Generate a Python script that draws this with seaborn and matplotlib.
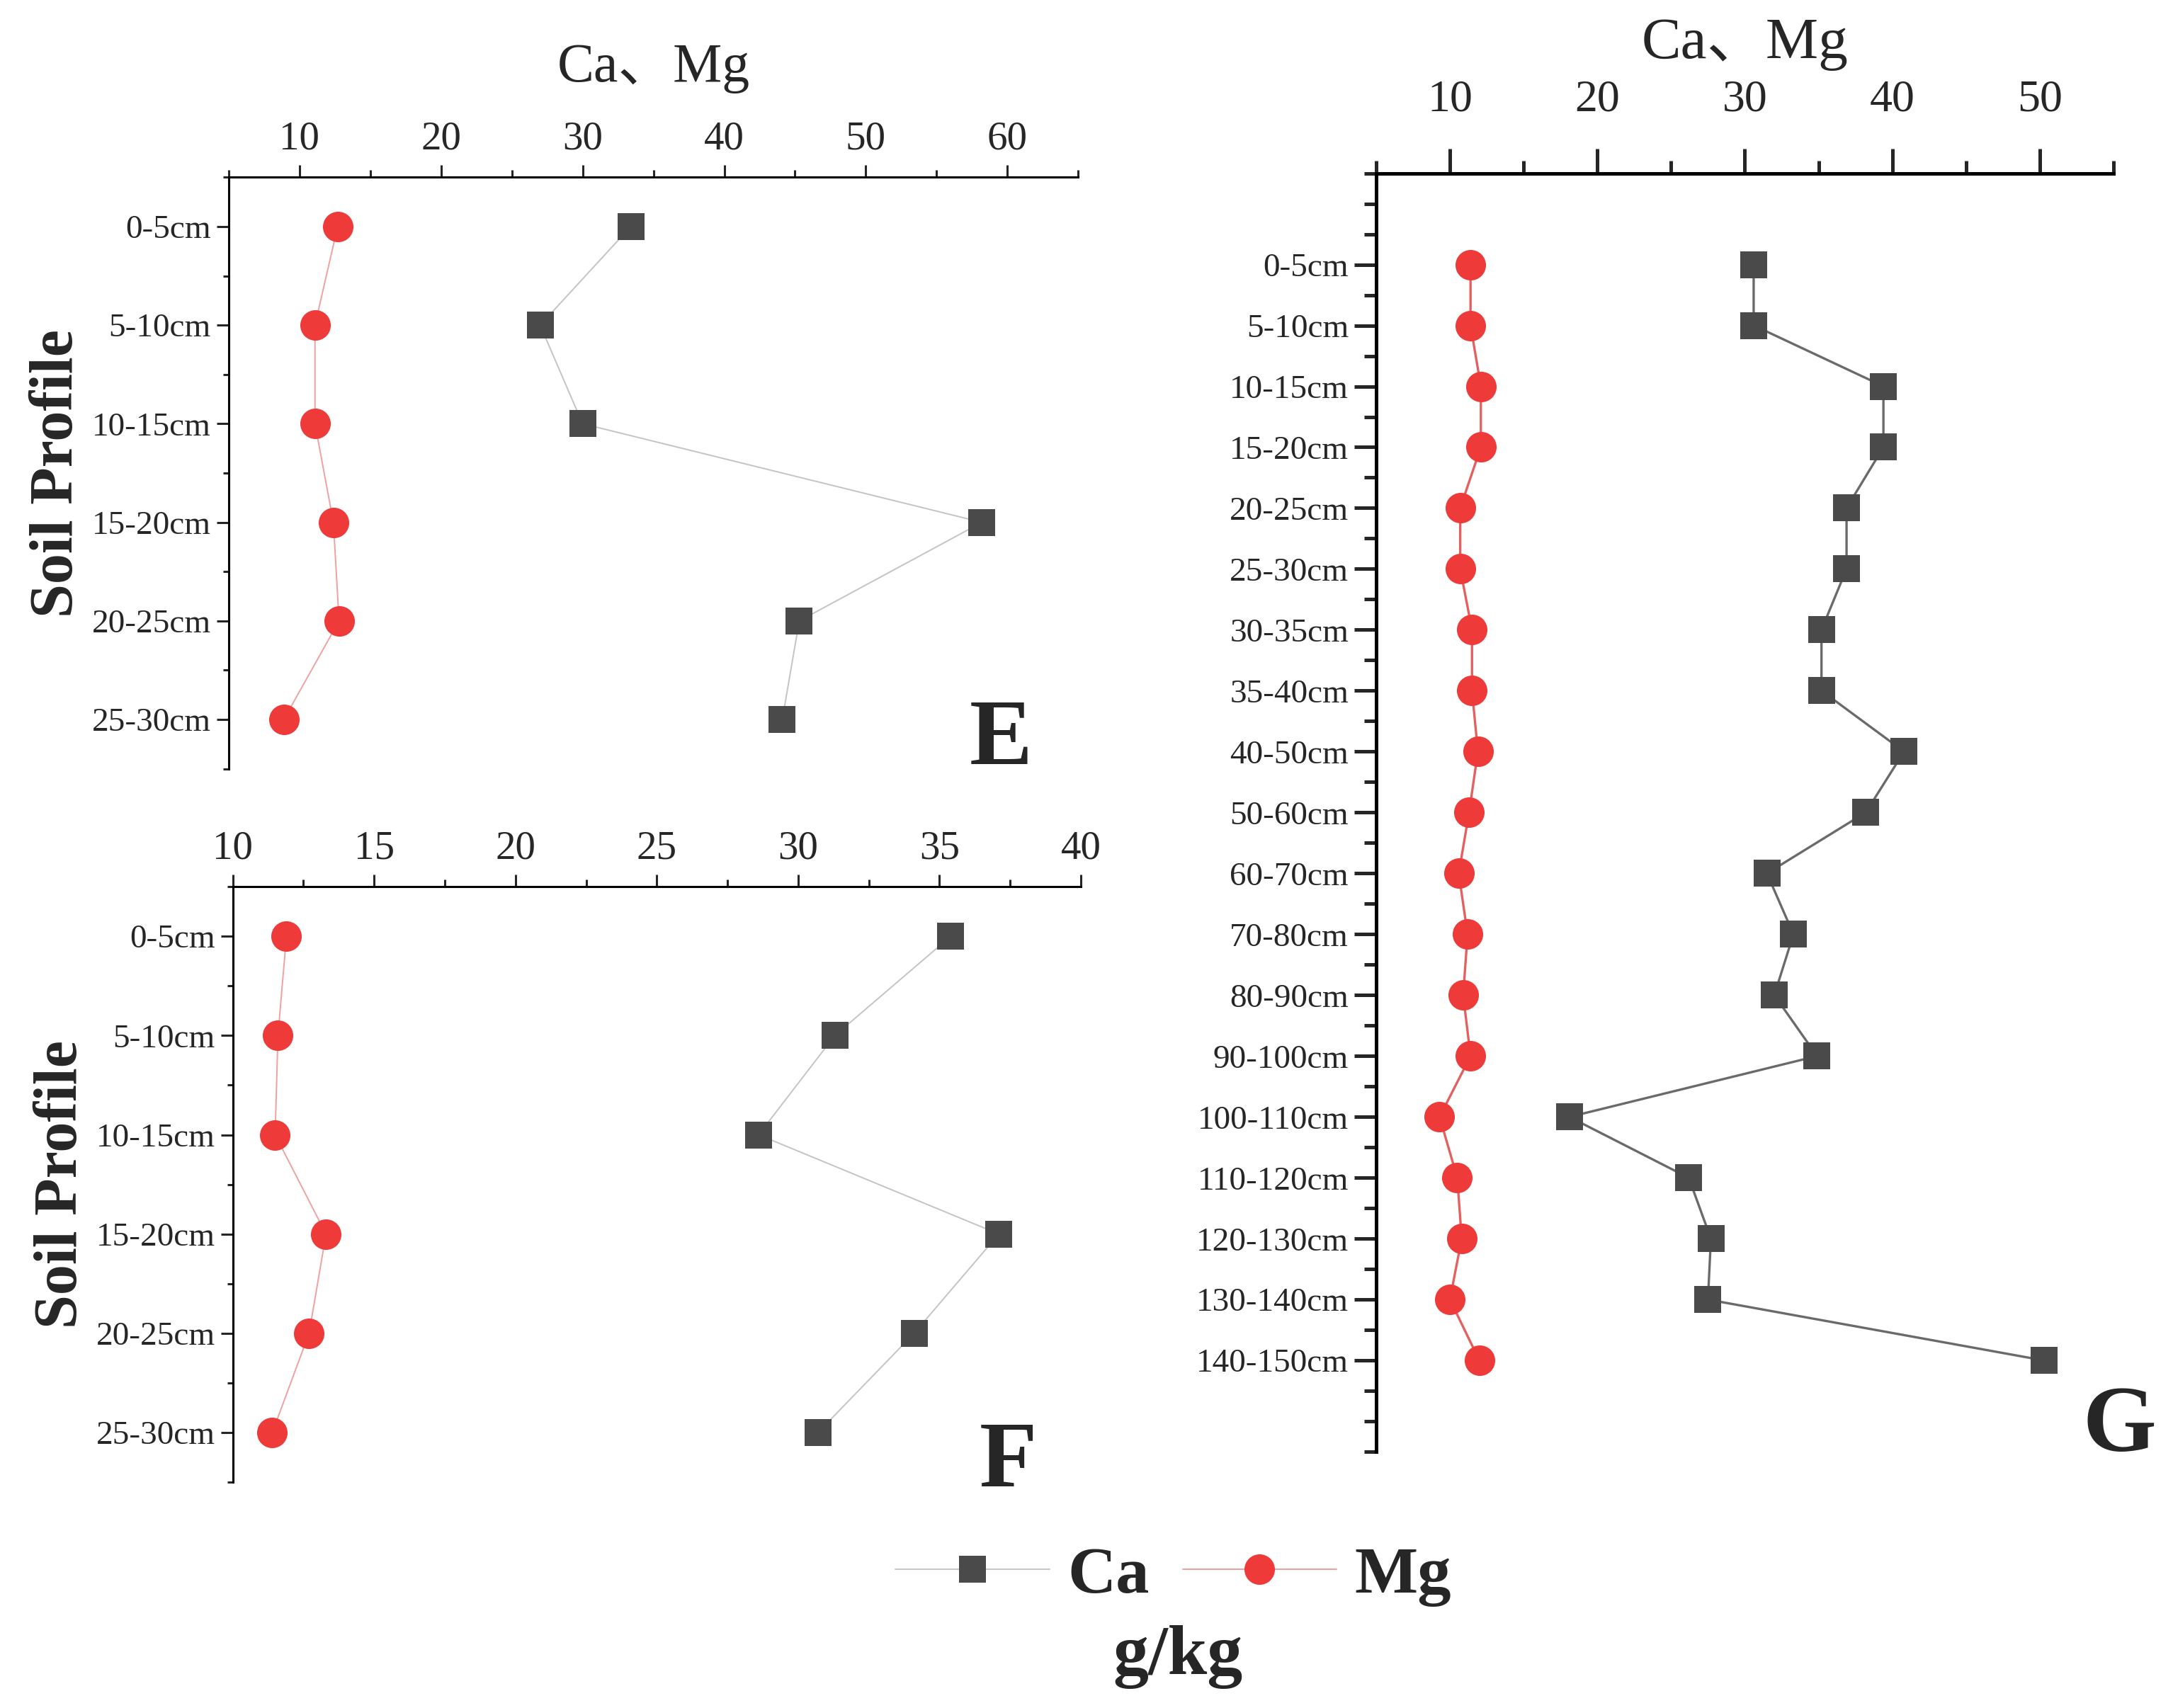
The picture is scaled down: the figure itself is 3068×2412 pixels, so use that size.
import numpy as np
import pandas as pd
import matplotlib
matplotlib.use("Agg")
import matplotlib.pyplot as plt
from matplotlib.ticker import MultipleLocator
from matplotlib.lines import Line2D
import seaborn as sns

# depth classes
depth_short = ["0-5cm", "5-10cm", "10-15cm", "15-20cm", "20-25cm", "25-30cm"]
depth_long = ["0-5cm", "5-10cm", "10-15cm", "15-20cm", "20-25cm", "25-30cm",
              "30-35cm", "35-40cm", "40-50cm", "50-60cm", "60-70cm", "70-80cm",
              "80-90cm", "90-100cm", "100-110cm", "110-120cm", "120-130cm",
              "130-140cm", "140-150cm"]

# profile E (g/kg)
ca_e = [33.4, 27.0, 30.0, 58.2, 45.3, 44.1]
mg_e = [12.7, 11.1, 11.1, 12.4, 12.8, 8.9]

# profile F (g/kg)
ca_f = [35.4, 31.3, 28.6, 37.1, 34.1, 30.7]
mg_f = [11.9, 11.6, 11.5, 13.3, 12.7, 11.4]

# profile G (g/kg)
ca_g = [30.6, 30.6, 39.4, 39.4, 36.9, 36.9, 35.2, 35.2, 40.8, 38.2, 31.5,
        33.3, 32.0, 34.9, 18.1, 26.2, 27.7, 27.5, 50.3]
mg_g = [11.4, 11.4, 12.1, 12.1, 10.7, 10.7, 11.5, 11.5, 11.9, 11.3, 10.6,
        11.2, 10.9, 11.4, 9.3, 10.5, 10.8, 10.0, 12.0]

sns.set_theme(style="white")
plt.rcParams["font.family"] = ["Liberation Serif", "Noto Sans CJK SC"]

RED = "#ef3a3a"
DARK = "#4a4a4a"
SQ = 28
CI = 31

fig = plt.figure(figsize=(30.68, 24.12), dpi=100)


def profile(rect, depths, ca, mg, xlim, major, minor, pad_rows, letter,
            letter_xy, title, ca_line, mg_line, lw, spine_w, big):
    ax = fig.add_axes(rect)
    df = pd.DataFrame({"depth": depths, "pos": np.arange(len(depths)),
                       "Ca": ca, "Mg": mg})
    sns.lineplot(data=df, x="Ca", y="pos", orient="y", sort=False,
                 estimator=None, color=ca_line, lw=lw, marker="s",
                 markersize=SQ, mfc=DARK, mec=DARK, mew=0, ax=ax)
    sns.lineplot(data=df, x="Mg", y="pos", orient="y", sort=False,
                 estimator=None, color=mg_line, lw=lw, marker="o",
                 markersize=CI, mfc=RED, mec=RED, mew=0, ax=ax)
    ax.set_xlim(*xlim)
    ax.set_ylim(len(depths) - 1 + pad_rows, -pad_rows)
    ax.xaxis.tick_top()
    ax.xaxis.set_major_locator(MultipleLocator(major))
    ax.xaxis.set_minor_locator(MultipleLocator(minor))
    ticks = [t for t in ax.get_xticks()
             if xlim[0] <= t <= xlim[1] and t >= 10]
    ax.set_xticks(ticks)
    ax.set_xticklabels([f"{t:g}" for t in ticks])
    ax.set_yticks(df["pos"], df["depth"])
    ax.yaxis.set_minor_locator(MultipleLocator(0.5))
    if big:
        xl, xm, xs, xp, yl, ym = 25, 13, 46, 28, 22, 12
    else:
        xl, xm, xs, xp, yl, ym = 12, 7, 41, 8, 12, 6
    ax.tick_params(axis="x", which="major", length=xl, width=spine_w,
                   labelsize=xs, pad=xp, direction="out", top=True,
                   bottom=False)
    ax.tick_params(axis="x", which="minor", length=xm, width=spine_w,
                   direction="out", top=True, bottom=False)
    ax.tick_params(axis="y", which="major", length=yl, width=spine_w,
                   labelsize=34, pad=6, direction="out", left=True)
    ax.tick_params(axis="y", which="minor", length=ym, width=spine_w,
                   direction="out", left=True)
    for s in ["bottom", "right"]:
        ax.spines[s].set_visible(False)
    for s in ["top", "left"]:
        ax.spines[s].set_linewidth(spine_w)
        ax.spines[s].set_color("black")
    ax.set_xlabel("")
    ax.set_ylabel("")
    ax.grid(False)
    ax.text(letter_xy[0], letter_xy[1], letter, transform=ax.transAxes,
            ha="right", va="bottom", fontsize=96, fontweight="bold")
    if title:
        ax.set_title("Ca、Mg", fontsize=60 if big else 56,
                     pad=22 if big else 40)
    return ax


ax_e = profile([0.1052, 0.5499, 0.391, 0.3463], depth_short, ca_e, mg_e,
               (5, 65), 10, 5, 0.5, "E", (0.946, -0.025), True,
               "#c4c4c4", "#f0a0a0", 1.4, 2.2, False)
ax_f = profile([0.1071, 0.1322, 0.3903, 0.3487], depth_short, ca_f, mg_f,
               (10, 40), 5, 2.5, 0.5, "F", (0.948, -0.04), False,
               "#c4c4c4", "#f0a0a0", 1.4, 2.2, False)
ax_g = profile([0.6333, 0.150, 0.3393, 0.7486], depth_long, ca_g, mg_g,
               (5, 55), 10, 5, 1.5, "G", (1.058, -0.015), True,
               "#6a6a6a", "#e46060", 2.4, 3.6, True)

for ax in (ax_e, ax_f):
    ax.set_ylabel("Soil Profile", fontsize=62, fontweight="bold", labelpad=6)

handles = [Line2D([], [], color="#c4c4c4", lw=1.4, marker="s", markersize=SQ,
                  mfc=DARK, mec=DARK, mew=0),
           Line2D([], [], color="#f0a0a0", lw=1.4, marker="o", markersize=CI,
                  mfc=RED, mec=RED, mew=0)]
fig.legend(handles, ["Ca", "Mg"], loc="center", ncol=2, frameon=False,
           bbox_to_anchor=(0.540, 0.077), handlelength=2.3, columnspacing=0.5,
           handletextpad=0.27, prop={"size": 68, "weight": "bold"})
fig.text(0.542, 0.030, "g/kg", ha="center", va="center", fontsize=72,
         fontweight="bold")

fig.savefig("out.png", dpi=100, facecolor="white")
